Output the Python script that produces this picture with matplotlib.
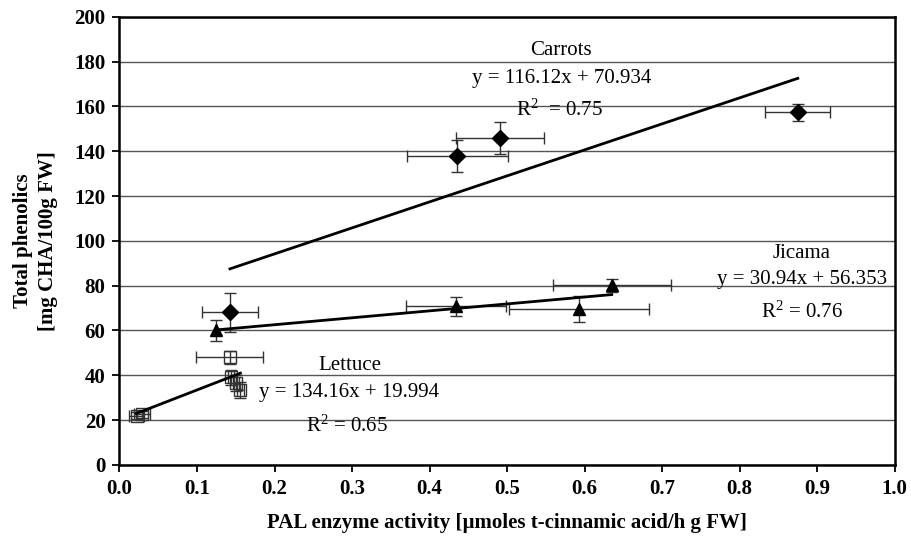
import numpy as np
import matplotlib
matplotlib.use("Agg")
import matplotlib.pyplot as plt
from matplotlib.ticker import FormatStrFormatter

plt.rcParams['font.family'] = ['Liberation Serif', 'DejaVu Serif']
plt.rcParams['mathtext.fontset'] = 'custom'
plt.rcParams['mathtext.rm'] = 'Liberation Serif'
plt.rcParams['mathtext.it'] = 'Liberation Serif:italic'

# Carrots (filled diamonds)
carrot_x = [0.1425, 0.436, 0.491, 0.875]
carrot_y = [68.0, 138.0, 146.0, 157.3]
carrot_xerr = [0.036, 0.065, 0.057, 0.042]
carrot_yerr = [8.8, 7.2, 7.2, 3.7]

# Jicama (filled triangles)
jicama_x = [0.124, 0.434, 0.593, 0.635]
jicama_y = [60.0, 70.7, 69.5, 80.2]
jicama_xerr = [0.0, 0.065, 0.090, 0.076]
jicama_yerr = [4.8, 4.1, 5.8, 2.9]

# Lettuce (open squares)
lettuce_x = [0.022, 0.029, 0.142, 0.144, 0.150, 0.156]
lettuce_y = [22.0, 22.5, 48.0, 39.0, 36.5, 33.5]
lettuce_xerr = [0.010, 0.010, 0.043, 0.004, 0.004, 0.004]
lettuce_yerr = [1.5, 1.5, 2.8, 3.2, 3.5, 3.5]

# trend lines (slope, intercept) as given in the chart
fits = {
    'Carrots': (116.12, 70.934),
    'Jicama': (30.94, 56.353),
    'Lettuce': (134.16, 19.994),
}

fig = plt.figure(figsize=(9.12, 5.43), dpi=100)
ax = fig.add_axes([0.131, 0.144, 0.850, 0.825])

ax.set_xlim(0, 1.0)
ax.set_ylim(0, 200)
ax.set_xticks(np.arange(0, 1.01, 0.1))
ax.set_yticks(np.arange(0, 201, 20))
ax.xaxis.set_major_formatter(FormatStrFormatter('%.1f'))
ax.yaxis.grid(True, color='#555555', linewidth=1.0)
ax.set_axisbelow(True)

for s in ax.spines.values():
    s.set_linewidth(1.8)
    s.set_color('black')
ax.tick_params(axis='both', direction='out', length=5, width=1.3,
               labelsize=15, pad=5)
for lab in ax.get_xticklabels() + ax.get_yticklabels():
    lab.set_fontweight('bold')

eb = dict(fmt='none', ecolor='#333333', elinewidth=1.0, capsize=4, capthick=1.0, zorder=3)

ax.errorbar(carrot_x, carrot_y, xerr=carrot_xerr, yerr=carrot_yerr, **eb)
ax.errorbar(jicama_x, jicama_y, xerr=jicama_xerr, yerr=jicama_yerr, **eb)
ax.errorbar(lettuce_x, lettuce_y, xerr=lettuce_xerr, yerr=lettuce_yerr, **eb)

ax.plot(carrot_x, carrot_y, 'D', color='black', markersize=8, zorder=4)
ax.plot(jicama_x, jicama_y, '^', color='black', markersize=9, zorder=4)
ax.plot(lettuce_x, lettuce_y, 's', markerfacecolor='none', markeredgecolor='#333333',
        markersize=8, markeredgewidth=1.0, zorder=4)

for name, xs in [('Carrots', carrot_x), ('Jicama', jicama_x), ('Lettuce', lettuce_x)]:
    m, b = fits[name]
    xx = np.array([min(xs), max(xs)])
    ax.plot(xx, m * xx + b, color='black', linewidth=2.0, zorder=5)

tk = dict(ha='center', va='center', fontsize=15, zorder=6)
ax.text(0.570, 185, 'Carrots', **tk)
ax.text(0.571, 172.3, 'y = 116.12x + 70.934', **tk)
ax.text(0.568, 158.5, 'R$^{2}$  = 0.75', **tk)

ax.text(0.880, 94.5, 'Jicama', **tk)
ax.text(0.880, 82.9, 'y = 30.94x + 56.353', **tk)
ax.text(0.880, 68.2, 'R$^{2}$ = 0.76', **tk)

ax.text(0.297, 44.2, 'Lettuce', **tk)
ax.text(0.296, 32.3, 'y = 134.16x + 19.994', **tk)
ax.text(0.294, 17.4, 'R$^{2}$ = 0.65', **tk)

ax.set_xlabel('PAL enzyme activity [µmoles t-cinnamic acid/h g FW]',
              fontsize=15, fontweight='bold', labelpad=10)
ax.set_ylabel('Total phenolics\n[mg CHA/100g FW]', fontsize=15,
              fontweight='bold', labelpad=12, linespacing=1.3)

fig.savefig('out.png', dpi=100)
